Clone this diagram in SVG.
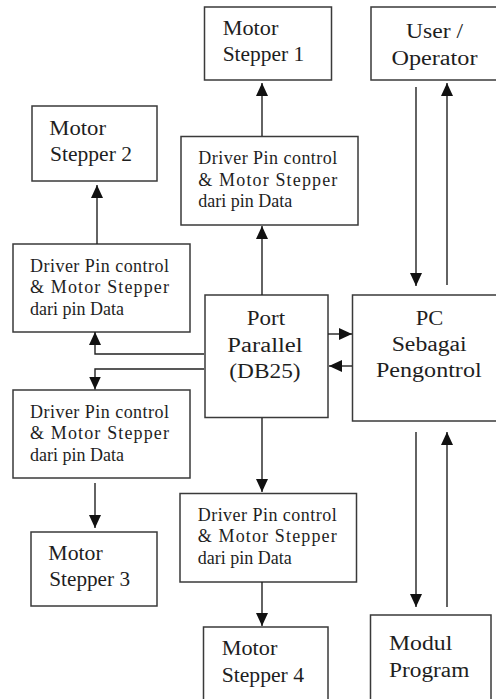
<svg xmlns="http://www.w3.org/2000/svg" width="496" height="699" viewBox="0 0 496 699" font-family="Liberation Serif, DejaVu Serif, Times New Roman, serif">
<style>
.box{fill:#fff;stroke:#3a3a3a;stroke-width:1.5}
.t{font-size:20px;fill:#1e1e1e}
.d{font-size:18px;fill:#1e1e1e}
.c{text-anchor:middle}
.ln{fill:none;stroke:#222;stroke-width:1.4}
</style>
<defs>
<marker id="ah" markerUnits="userSpaceOnUse" markerWidth="14" markerHeight="12" refX="13" refY="6" orient="auto">
<path d="M0,0 L13,6 L0,12 z" fill="#111"/>
</marker>
</defs>
<rect width="496" height="699" fill="#fff"/>

<g id="motor1">
<rect class="box" x="204.5" y="7" width="127" height="73"/>
<text class="t" font-family="Liberation Serif, serif" x="222.7" y="35" textLength="55.6" lengthAdjust="spacingAndGlyphs">Motor</text>
<text class="t" font-family="Liberation Serif, serif" x="222.7" y="60.5" textLength="81.6" lengthAdjust="spacingAndGlyphs">Stepper 1</text>
</g>
<g id="user">
<rect class="box" x="371" y="7" width="140" height="73"/>
<text class="t c" font-family="Liberation Serif, serif" x="434.5" y="37.5" textLength="57" lengthAdjust="spacingAndGlyphs">User /</text>
<text class="t c" font-family="Liberation Serif, serif" x="434.5" y="65" textLength="86" lengthAdjust="spacingAndGlyphs">Operator</text>
</g>
<g id="motor2">
<rect class="box" x="32" y="106" width="125" height="75"/>
<text class="t" font-family="Liberation Serif, serif" x="49.3" y="135" textLength="56.7" lengthAdjust="spacingAndGlyphs">Motor</text>
<text class="t" font-family="Liberation Serif, serif" x="50" y="161" textLength="82" lengthAdjust="spacingAndGlyphs">Stepper 2</text>
</g>
<g id="driver1">
<rect class="box" x="181" y="136.5" width="177" height="88.5"/>
<text class="d" font-family="Liberation Serif, serif" x="198.3" y="164" textLength="139" lengthAdjust="spacing">Driver Pin control</text>
<text class="d" font-family="Liberation Serif, serif" x="198.3" y="185.5" textLength="139" lengthAdjust="spacing">&amp;  Motor  Stepper</text>
<text class="d" font-family="Liberation Serif, serif" x="198.3" y="207">dari pin Data</text>
</g>
<g id="driver2">
<rect class="box" x="13" y="244" width="177" height="88"/>
<text class="d" font-family="Liberation Serif, serif" x="30" y="271.5" textLength="139" lengthAdjust="spacing">Driver Pin control</text>
<text class="d" font-family="Liberation Serif, serif" x="30" y="293" textLength="139" lengthAdjust="spacing">&amp;  Motor  Stepper</text>
<text class="d" font-family="Liberation Serif, serif" x="30" y="314.5">dari pin Data</text>
</g>
<g id="port">
<rect class="box" x="205" y="295" width="123" height="122.5"/>
<text class="t c" font-family="Liberation Serif, serif" x="266" y="325" textLength="38.3" lengthAdjust="spacingAndGlyphs">Port</text>
<text class="t c" font-family="Liberation Serif, serif" x="265" y="351.5" textLength="75.3" lengthAdjust="spacingAndGlyphs">Parallel</text>
<text class="t c" font-family="Liberation Serif, serif" x="265" y="377.5" textLength="71.3" lengthAdjust="spacingAndGlyphs">(DB25)</text>
</g>
<g id="pc">
<rect class="box" x="352.5" y="295" width="160" height="126"/>
<text class="t c" font-family="Liberation Serif, serif" x="429.5" y="325" textLength="27.6" lengthAdjust="spacingAndGlyphs">PC</text>
<text class="t c" font-family="Liberation Serif, serif" x="429.2" y="351" textLength="75" lengthAdjust="spacingAndGlyphs">Sebagai</text>
<text class="t c" font-family="Liberation Serif, serif" x="428.8" y="377" textLength="105.7" lengthAdjust="spacingAndGlyphs">Pengontrol</text>
</g>
<g id="driver3">
<rect class="box" x="13" y="390" width="177" height="88"/>
<text class="d" font-family="Liberation Serif, serif" x="30" y="417.5" textLength="139" lengthAdjust="spacing">Driver Pin control</text>
<text class="d" font-family="Liberation Serif, serif" x="30" y="439" textLength="139" lengthAdjust="spacing">&amp;  Motor  Stepper</text>
<text class="d" font-family="Liberation Serif, serif" x="30" y="460.5">dari pin Data</text>
</g>
<g id="driver4">
<rect class="box" x="180" y="493.5" width="176.5" height="88.5"/>
<text class="d" font-family="Liberation Serif, serif" x="197.7" y="520.5" textLength="139" lengthAdjust="spacing">Driver Pin control</text>
<text class="d" font-family="Liberation Serif, serif" x="197.7" y="542" textLength="139" lengthAdjust="spacing">&amp;  Motor  Stepper</text>
<text class="d" font-family="Liberation Serif, serif" x="197.7" y="563.5">dari pin Data</text>
</g>
<g id="motor3">
<rect class="box" x="31" y="532" width="126" height="74"/>
<text class="t" font-family="Liberation Serif, serif" x="48.3" y="560" textLength="54.4" lengthAdjust="spacingAndGlyphs">Motor</text>
<text class="t" font-family="Liberation Serif, serif" x="49.3" y="586" textLength="80.7" lengthAdjust="spacingAndGlyphs">Stepper 3</text>
</g>
<g id="motor4">
<rect class="box" x="203.5" y="627" width="124.5" height="90"/>
<text class="t" font-family="Liberation Serif, serif" x="221.7" y="655" textLength="55.6" lengthAdjust="spacingAndGlyphs">Motor</text>
<text class="t" font-family="Liberation Serif, serif" x="221.7" y="681.5" textLength="82.3" lengthAdjust="spacingAndGlyphs">Stepper 4</text>
</g>
<g id="modul">
<rect class="box" x="370.5" y="615" width="120.5" height="100"/>
<text class="t" font-family="Liberation Serif, serif" x="389" y="650" textLength="63.3" lengthAdjust="spacingAndGlyphs">Modul</text>
<text class="t" font-family="Liberation Serif, serif" x="389" y="676.5" textLength="80.3" lengthAdjust="spacingAndGlyphs">Program</text>
</g>

<g id="connectors">
<path class="ln" d="M262,136 L262,83" marker-end="url(#ah)"/>
<path class="ln" d="M97,244 L97,185" marker-end="url(#ah)"/>
<path class="ln" d="M416,87 L416,286" marker-end="url(#ah)"/>
<path class="ln" d="M447,285 L447,83" marker-end="url(#ah)"/>
<path class="ln" d="M262,295 L262,226" marker-end="url(#ah)"/>
<path class="ln" d="M204,354 L95,354 L95,332" marker-end="url(#ah)"/>
<path class="ln" d="M204,369 L95,369 L95,389.5" marker-end="url(#ah)"/>
<path class="ln" d="M328,334 L352,334" marker-end="url(#ah)"/>
<path class="ln" d="M352,366 L329,366" marker-end="url(#ah)"/>
<path class="ln" d="M262,418 L262,492" marker-end="url(#ah)"/>
<path class="ln" d="M262,582 L262,626" marker-end="url(#ah)"/>
<path class="ln" d="M95,483 L95,528" marker-end="url(#ah)"/>
<path class="ln" d="M416,432 L416,607" marker-end="url(#ah)"/>
<path class="ln" d="M447,607 L447,432" marker-end="url(#ah)"/>
</g>
</svg>
